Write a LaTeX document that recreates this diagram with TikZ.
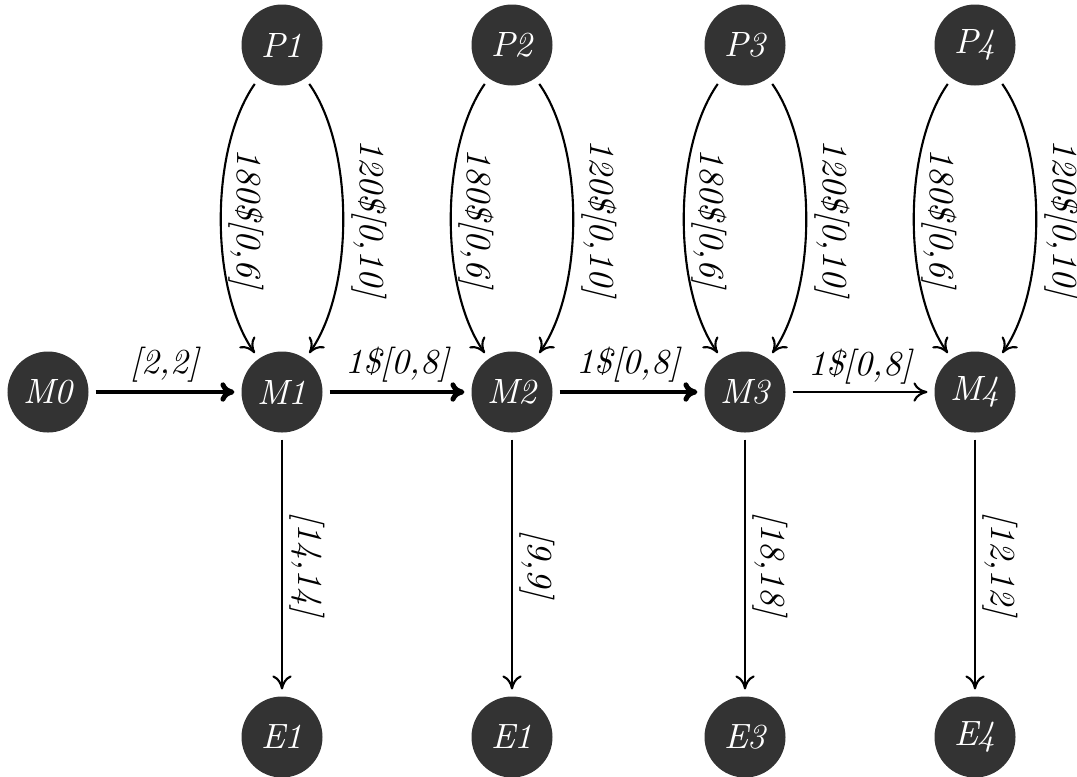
\documentclass[tikz,border=0pt]{standalone}
\usetikzlibrary{arrows.meta}
\tikzset{
  stage/.style={circle, fill=black!80, text=white, minimum size=0.81cm, inner sep=0pt, outer sep=2pt, font=\itshape},
  flow/.style={-{To[length=4pt,width=5.5pt]}, line width=0.6pt},
  mainflow/.style={-{To[length=4pt,width=5.5pt]}, line width=1.4pt},
  tag/.style={font=\itshape, sloped, above, allow upside down, inner sep=2pt}
}
\newcommand{\stage}[4]{\node[stage] (#1) at (#2,#3) {#4};}
\newcommand{\feed}[2]{\draw[flow] (#1) to[out=235,in=125,looseness=0.75] node[tag] {180\$[0,6]} (#2);
  \draw[flow] (#1) to[out=-55,in=55,looseness=0.75] node[tag] {120\$[0,10]} (#2);}
\newcommand{\link}[4]{\draw[#1] (#2) -- node[tag] {#4} (#3);}
\begin{document}
\begin{tikzpicture}
    \useasboundingbox (0,0) rectangle (10.77,-7.76);
    \stage{M0}{0.48}{-3.92}{M0}
    \stage{M1}{2.82}{-3.92}{M1} \stage{M2}{5.12}{-3.92}{M2}
    \stage{M3}{7.45}{-3.92}{M3} \stage{M4}{9.75}{-3.92}{M4}
    \stage{P1}{2.82}{-0.45}{P1} \stage{P2}{5.12}{-0.45}{P2}
    \stage{P3}{7.45}{-0.45}{P3} \stage{P4}{9.75}{-0.45}{P4}
    \stage{E1}{2.82}{-7.37}{E1} \stage{E2}{5.12}{-7.37}{E1}
    \stage{E3}{7.45}{-7.37}{E3} \stage{E4}{9.75}{-7.37}{E4}
    % supply curves
    \feed{P1}{M1}\feed{P2}{M2}\feed{P3}{M3}\feed{P4}{M4}
    % main line
    \link{mainflow}{M0}{M1}{[2,2]}
    \link{mainflow}{M1}{M2}{1\$[0,8]}
    \link{mainflow}{M2}{M3}{1\$[0,8]}
    \link{flow}{M3}{M4}{1\$[0,8]}
    % exits
    \link{flow}{M1}{E1}{[14,14]}\link{flow}{M2}{E2}{[9,9]}
    \link{flow}{M3}{E3}{[18,18]}\link{flow}{M4}{E4}{[12,12]}
\end{tikzpicture}
\end{document}
